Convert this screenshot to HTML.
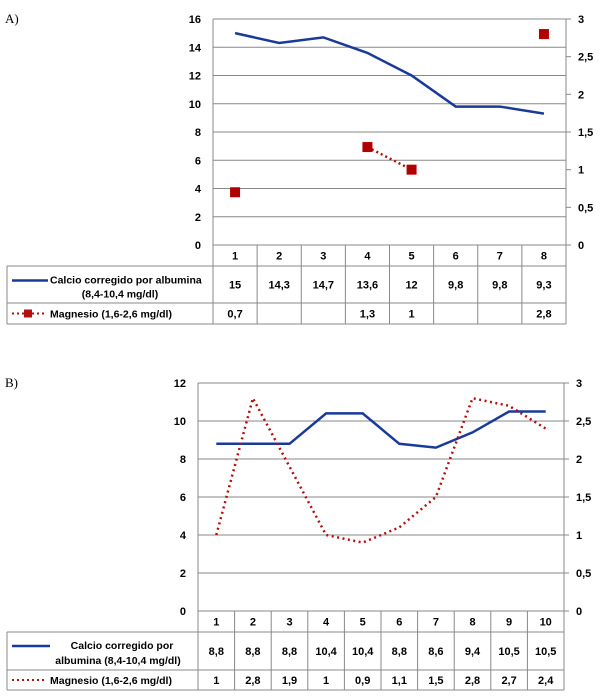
<!DOCTYPE html>
<html><head><meta charset="utf-8"><style>
body{margin:0;background:#fff}
svg{display:block;font-family:"Liberation Sans",sans-serif}
</style></head><body>
<svg id="s" width="602" height="697"></svg>
<script>
const catsA=["1","2","3","4","5","6","7","8"];
const calcioA=[15,14.3,14.7,13.6,12,9.8,9.8,9.3];
const calcioAL=["15","14,3","14,7","13,6","12","9,8","9,8","9,3"];
const magA=[0.7,null,null,1.3,1,null,null,2.8];
const magAL=["0,7","","","1,3","1","","","2,8"];
const leftTicksA=[0,2,4,6,8,10,12,14,16];
const catsB=["1","2","3","4","5","6","7","8","9","10"];
const calcioB=[8.8,8.8,8.8,10.4,10.4,8.8,8.6,9.4,10.5,10.5];
const calcioBL=["8,8","8,8","8,8","10,4","10,4","8,8","8,6","9,4","10,5","10,5"];
const magB=[1,2.8,1.9,1,0.9,1.1,1.5,2.8,2.7,2.4];
const magBL=["1","2,8","1,9","1","0,9","1,1","1,5","2,8","2,7","2,4"];
const leftTicksB=[0,2,4,6,8,10,12];
const rightTicks=[0,0.5,1,1.5,2,2.5,3];
const rightTickL=["0","0,5","1","1,5","2","2,5","3"];
const NS="http://www.w3.org/2000/svg";
const svg=document.getElementById('s');
function el(t,a,p){const e=document.createElementNS(NS,t);for(const k in a)e.setAttribute(k,a[k]);(p||svg).appendChild(e);return e;}
function txt(x,y,s,a,p){const e=el('text',Object.assign({x:x,y:y,'font-size':11,fill:'#000','font-weight':'bold'},a||{}),p);e.textContent=s;return e;}
function chart(o){
  const g=el('g',{});
  
  
  const {L,R,T,B}=o;
  const lmax=o.lt[o.lt.length-1];
  const yl=v=>B-(v/lmax)*(B-T);
  const yr=v=>B-(v/3)*(B-T);
  const n=o.cats.length, cw=(R-L)/n;
  const xc=i=>L+cw*(i+0.5);
  o.lt.forEach(v=>{const l=el('line',{x1:L,x2:R,y1:yl(v),y2:yl(v),stroke:'#888','stroke-width':1},g);
    
    const t=txt(L-12,yl(v)+4,String(v),{'text-anchor':'end'},g);
    });
  rightTicks.forEach((v,i)=>{el('line',{x1:R,x2:R+5,y1:yr(v),y2:yr(v),stroke:'#888'},g);
    const t=txt(R+12,yr(v)+4,rightTickL[i],{},g);
    });
  el('line',{x1:L,x2:L,y1:T,y2:B,stroke:'#888'},g);
  el('line',{x1:R,x2:R,y1:T,y2:o.tb[3],stroke:'#888'},g);
  // table
  const [h1,h2,h3,h4]=o.tb, TL=7;
  el('line',{x1:L,x2:R,y1:h1,y2:h1,stroke:'#888'},g);
  [h2,h3,h4].forEach(y=>el('line',{x1:TL,x2:R,y1:y,y2:y,stroke:'#888'},g));
  el('line',{x1:TL,x2:TL,y1:h2,y2:h4,stroke:'#888'},g);
  for(let i=0;i<=n;i++){el('line',{x1:L+cw*i,x2:L+cw*i,y1:h1,y2:h4,stroke:'#888'},g);}
  o.cats.forEach((c,i)=>{const t=txt(xc(i),(h1+h2)/2+4,c,{'text-anchor':'middle'},g);
    
    txt(xc(i),(h2+h3)/2+4,o.cl[i],{'text-anchor':'middle'},g);
    txt(xc(i),(h3+h4)/2+4,o.ml[i],{'text-anchor':'middle'},g);});
  o.legend(g,TL,h2,h3,h4);
  // calcio line
  const pc=el('polyline',{points:o.cv.map((v,i)=>xc(i)+','+yl(v)).join(' '),fill:'none',stroke:'#1a3a9a','stroke-width':2.5},g);
  
  o.mag(g,xc,yr);
}
chart({name:'chart-a',L:213,R:566,T:19,B:245,tb:[245,266,303,324],lt:leftTicksA,cats:catsA,cv:calcioA,cl:calcioAL,ml:magAL,
 legend:(g,TL,h2,h3,h4)=>{el('line',{x1:12,x2:48,y1:(h2+h3)/2-4,y2:(h2+h3)/2-4,stroke:'#1a3a9a','stroke-width':2.5},g);
   txt(50,(h2+h3)/2-1,'Calcio corregido por albumina',{'font-size':10.5},g);txt(120,(h2+h3)/2+13,'(8,4-10,4 mg/dl)',{'font-size':10.5,'text-anchor':'middle'},g);
   el('line',{x1:12,x2:44,y1:(h3+h4)/2,y2:(h3+h4)/2,stroke:'#b01010','stroke-width':2,'stroke-dasharray':'2,3'},g);
   el('rect',{x:24,y:(h3+h4)/2-4,width:8,height:8,fill:'#b01010'},g);
   txt(50,(h3+h4)/2+4,'Magnesio (1,6-2,6 mg/dl)',{'font-size':10.5},g);},
 mag:(g,xc,yr)=>{for(let i=0;i<magA.length-1;i++){if(magA[i]!=null&&magA[i+1]!=null)el('line',{x1:xc(i),x2:xc(i+1),y1:yr(magA[i]),y2:yr(magA[i+1]),stroke:'#b01010','stroke-width':2.5,'stroke-dasharray':'2,3'},g);}
   magA.forEach((v,i)=>{if(v==null)return;const r=el('rect',{x:xc(i)-5,y:yr(v)-5,width:10,height:10,fill:'#b00000'},g);
     });}
});
chart({name:'chart-b',L:198,R:564,T:383,B:611,tb:[611,632,670,690],lt:leftTicksB,cats:catsB,cv:calcioB,cl:calcioBL,ml:magBL,
 legend:(g,TL,h2,h3,h4)=>{el('line',{x1:12,x2:50,y1:(h2+h3)/2-5,y2:(h2+h3)/2-5,stroke:'#1a3a9a','stroke-width':2.5},g);
   txt(122,(h2+h3)/2-2,'Calcio corregido por',{'font-size':10.5,'text-anchor':'middle'},g);txt(118,(h2+h3)/2+13,'albumina (8,4-10,4 mg/dl)',{'font-size':10.5,'text-anchor':'middle'},g);
   el('line',{x1:12,x2:46,y1:(h3+h4)/2,y2:(h3+h4)/2,stroke:'#b01010','stroke-width':2,'stroke-dasharray':'2,3'},g);
   txt(50,(h3+h4)/2+4,'Magnesio (1,6-2,6 mg/dl)',{'font-size':10.5},g);},
 mag:(g,xc,yr)=>{const p=el('polyline',{points:magB.map((v,i)=>xc(i)+','+yr(v)).join(' '),fill:'none',stroke:'#b01010','stroke-width':2.5,'stroke-dasharray':'2,3.5'},g);
   }
});
const a=txt(5,23,'A)',{'font-family':'Liberation Serif','font-weight':'normal','font-size':13});

const b=txt(5,387,'B)',{'font-family':'Liberation Serif','font-weight':'normal','font-size':13});

</script>
</body></html>
